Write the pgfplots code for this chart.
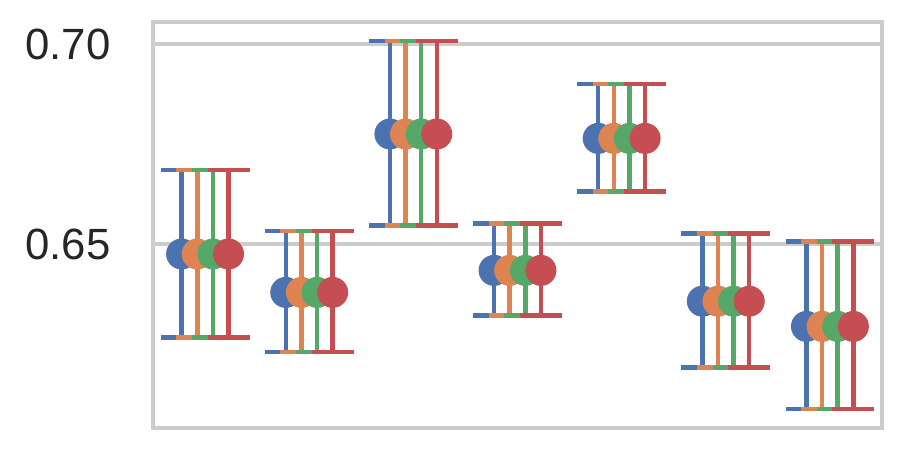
\documentclass[border=0pt]{standalone}
\usepackage{pgfplots}
\pgfplotsset{compat=1.18}
\usepackage{pgfplotstable}
\usepackage{fontspec}
\setmainfont{Liberation Sans}
\definecolor{sbblue}{HTML}{4C72B0}
\definecolor{sborange}{HTML}{DD8452}
\definecolor{sbgreen}{HTML}{55A868}
\definecolor{sbred}{HTML}{C44E52}
\definecolor{gridgray}{HTML}{CCCCCC}
\definecolor{textgray}{HTML}{262626}
\pgfplotstableread{
x y lo hi
0 0.6475 0.6266 0.6685
1 0.6379 0.6230 0.6533
2 0.6775 0.6546 0.7008
3 0.6434 0.6321 0.6551
4 0.6764 0.6631 0.6900
5 0.6357 0.6191 0.6526
6 0.6294 0.6088 0.6506
}\dataA
\pgfplotstableread{
x y lo hi
0 0.6475 0.6266 0.6685
1 0.6379 0.6230 0.6533
2 0.6775 0.6546 0.7008
3 0.6434 0.6321 0.6551
4 0.6764 0.6631 0.6900
5 0.6357 0.6191 0.6526
6 0.6294 0.6088 0.6506
}\dataB
\pgfplotstableread{
x y lo hi
0 0.6475 0.6266 0.6685
1 0.6379 0.6230 0.6533
2 0.6775 0.6546 0.7008
3 0.6434 0.6321 0.6551
4 0.6764 0.6631 0.6900
5 0.6357 0.6191 0.6526
6 0.6294 0.6088 0.6506
}\dataC
\pgfplotstableread{
x y lo hi
0 0.6475 0.6266 0.6685
1 0.6379 0.6230 0.6533
2 0.6775 0.6546 0.7008
3 0.6434 0.6321 0.6551
4 0.6764 0.6631 0.6900
5 0.6357 0.6191 0.6526
6 0.6294 0.6088 0.6506
}\dataD
\pgfplotsset{
  sbseries/.style={
    only marks, mark=*, mark size=6pt,
    mark options={fill=#1, draw=none},
    color=#1,
    error bars/y dir=both,
    error bars/y explicit,
    error bars/error bar style={line width=1.8pt, draw=#1},
    error bars/error mark=|,
    error bars/error mark options={line width=1.8pt, mark size=8.4pt, draw=#1},
  }
}
\begin{document}
\begin{tikzpicture}
\begin{axis}[
  scale only axis,
  width=291.6pt, height=162.4pt,
  xmin=-0.5, xmax=6.5,
  ymin=0.604, ymax=0.7055,
  xtick=\empty,
  ytick={0.65,0.70},
  yticklabel style={
    /pgf/number format/fixed,
    /pgf/number format/precision=2,
    /pgf/number format/fixed zerofill,
    /pgf/number format/assume math mode=true,
    font=\fontsize{17.5}{20}\selectfont,
    text=textgray, anchor=east, inner sep=0pt, xshift=-16.8pt},
  major tick length=0pt,
  ymajorgrids,
  major grid style={draw=gridgray, line width=1.3pt},
  axis line style={draw=gridgray, line width=1.6pt},
  clip=false,
]
\addplot[sbseries=sbblue] table[x expr=\thisrow{x}-0.225, y=y, y error plus expr=\thisrow{hi}-\thisrow{y}, y error minus expr=\thisrow{y}-\thisrow{lo}] {\dataA};
\addplot[sbseries=sborange] table[x expr=\thisrow{x}-0.075, y=y, y error plus expr=\thisrow{hi}-\thisrow{y}, y error minus expr=\thisrow{y}-\thisrow{lo}] {\dataB};
\addplot[sbseries=sbgreen] table[x expr=\thisrow{x}+0.075, y=y, y error plus expr=\thisrow{hi}-\thisrow{y}, y error minus expr=\thisrow{y}-\thisrow{lo}] {\dataC};
\addplot[sbseries=sbred] table[x expr=\thisrow{x}+0.225, y=y, y error plus expr=\thisrow{hi}-\thisrow{y}, y error minus expr=\thisrow{y}-\thisrow{lo}] {\dataD};
\end{axis}
\path (current axis.south west) ++(-61.2pt,-8.8pt) coordinate (bbA);
\path (current axis.north east) ++(7.2pt,8.8pt) coordinate (bbB);
\useasboundingbox (bbA) rectangle (bbB);
\end{tikzpicture}
\end{document}
